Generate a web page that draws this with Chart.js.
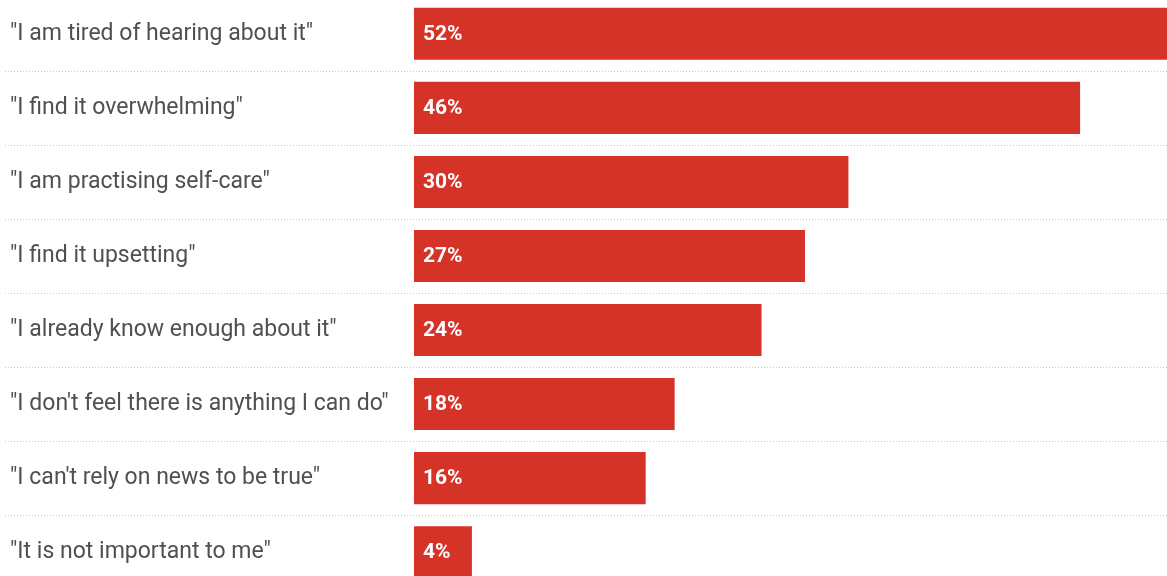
<!DOCTYPE html>
<html>
<head>
<meta charset="utf-8">
<script src="https://cdn.jsdelivr.net/npm/chart.js@4/dist/chart.umd.min.js"></script>
<style>
  html, body { margin: 0; padding: 0; background: #fff; overflow: hidden; }
  /* the last row runs past the bottom edge, so the canvas is taller than the window */
  #wrap { position: absolute; left: 0; top: -20px; width: 1167px; height: 626px; }
</style>
</head>
<body>
<div id="wrap"><canvas id="myChart"></canvas></div>
<script>
'use strict';
let reasons = [
  '"I am tired of hearing about it"',
  '"I find it overwhelming"',
  '"I am practising self-care"',
  '"I find it upsetting"',
  '"I already know enough about it"',
  '"I don\'t feel there is anything I can do"',
  '"I can\'t rely on news to be true"',
  '"It is not important to me"',
];
let percentages = [52, 46, 30, 27, 24, 18, 16, 4];

// dotted lines between the rows, full width
const rowLines = {
  id: 'rowLines',
  beforeDatasetsDraw(chart) {
    const ctx = chart.ctx;
    const y = chart.scales.y;
    ctx.save();
    ctx.strokeStyle = '#c8c8c8';
    ctx.lineWidth = 1;
    ctx.setLineDash([1, 2]);
    for (let i = 0; i < reasons.length - 1; i++) {
      let py = Math.round((y.getPixelForValue(i) + y.getPixelForValue(i + 1)) / 2) + 0.5;
      ctx.beginPath();
      ctx.moveTo(5, py);
      ctx.lineTo(chart.width, py);
      ctx.stroke();
    }
    ctx.restore();
  }
};

// percent text inside the bars
const barText = {
  id: 'barText',
  afterDatasetsDraw(chart) {
    const ctx = chart.ctx;
    const meta = chart.getDatasetMeta(0);
    ctx.save();
    ctx.fillStyle = '#ffffff';
    ctx.font = 'bold 21px Roboto';
    ctx.textAlign = 'left';
    ctx.textBaseline = 'middle';
    meta.data.forEach(function (bar, i) {
      ctx.fillText(percentages[i] + '%', bar.base + 9, bar.y + 1);
    });
    ctx.restore();
  }
};

var ctx = document.getElementById('myChart').getContext('2d');
var myChart = new Chart(ctx, {
  type: 'bar',
  data: {
    labels: reasons,
    datasets: [{
      data: percentages,
      backgroundColor: 'rgb(214, 51, 40)',
      borderWidth: 0,
      categoryPercentage: 1,
      barPercentage: 0.703
    }]
  },
  plugins: [rowLines, barText],
  options: {
    indexAxis: 'y',
    responsive: true,
    maintainAspectRatio: false,
    animation: false,
    layout: { padding: { left: 10, right: 0, top: 0, bottom: 0 } },
    plugins: {
      legend: { display: false },
      tooltip: { enabled: false }
    },
    scales: {
      x: {
        display: false,
        min: 0,
        max: 52
      },
      y: {
        grid: { display: false },
        border: { display: false },
        afterFit: function (scale) { scale.width = 404; },
        ticks: {
          crossAlign: 'far',
          color: '#505050',
          font: { family: 'Roboto', size: 23, weight: '400' }
        }
      }
    }
  }
});
</script>
</body>
</html>
